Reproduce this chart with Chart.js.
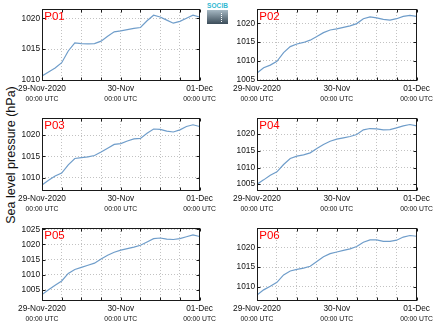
<!DOCTYPE html>
<html>
<head>
<meta charset="utf-8">
<script src="https://cdn.jsdelivr.net/npm/chart.js@4.4.0/dist/chart.umd.min.js"></script>
<style>
  body { margin: 0; background: #fff; width: 434px; height: 327px; position: relative; overflow: hidden; font-family: "Liberation Sans", Arial, sans-serif; }
  .panel { position: absolute; }
  #ylab { position: absolute; left: 11px; top: 155px; transform: translate(-50%, -50%) rotate(-90deg); font-size: 12.5px; color: #111; white-space: nowrap; }
  #logo { position: absolute; left: 207px; top: 2px; width: 21px; }
  #logo span { display: block; font-size: 6.5px; color: #2fb8d2; letter-spacing: 0.1px; line-height: 7px; font-weight: bold; }
  #logo div { height: 14px; margin-top: 1px; background: linear-gradient(#a6b8c3, #3b4c59); position: relative; }
  #logo div i { position: absolute; left: 14px; top: 3px; height: 9px; border-left: 1px dotted #fff; }
</style>
</head>
<body>
<div id="ylab">Sea level pressure (hPa)</div>
<div id="logo"><span>SOCIB</span><div><i></i></div></div>
<script>
// hours since 29-Nov-2020 00:00 UTC
const hours = [0, 2, 4, 6, 8, 10, 12, 14, 16, 18, 20, 22, 24, 26, 28, 30, 32, 34, 36, 38, 40, 42, 44, 46, 48];

const p01 = [1010.65, 1011.3, 1011.95, 1012.8, 1014.7, 1016.0, 1015.9, 1015.85, 1015.9, 1016.3, 1017.1, 1017.8, 1017.95,
             1018.15, 1018.35, 1018.5, 1019.6, 1020.5, 1020.2, 1019.7, 1019.2, 1019.5, 1020.0, 1020.5, 1020.2];
const p02 = [1006.8, 1008.2, 1008.9, 1009.9, 1012.2, 1013.8, 1014.5, 1014.9, 1015.5, 1016.5, 1017.5, 1018.2, 1018.5,
             1018.9, 1019.3, 1019.9, 1021.2, 1021.7, 1021.4, 1021.0, 1020.8, 1021.2, 1021.8, 1022.1, 1021.8];
const p03 = [1008.3, 1009.4, 1010.4, 1011.1, 1013.0, 1014.5, 1014.7, 1014.9, 1015.2, 1016.0, 1016.9, 1017.8, 1018.0,
             1018.6, 1019.1, 1019.2, 1020.4, 1021.4, 1021.3, 1020.9, 1020.7, 1021.2, 1022.0, 1022.4, 1022.0];
const p04 = [1005.0, 1006.3, 1007.7, 1008.7, 1010.9, 1012.7, 1013.4, 1013.8, 1014.4, 1015.7, 1016.9, 1017.9, 1018.5,
             1018.9, 1019.3, 1019.9, 1021.3, 1021.7, 1021.6, 1021.3, 1021.4, 1021.9, 1022.5, 1022.9, 1022.5];
const p05 = [1003.4, 1005.0, 1006.5, 1007.9, 1010.4, 1011.7, 1012.4, 1013.1, 1013.8, 1015.2, 1016.4, 1017.4, 1018.1,
             1018.6, 1019.1, 1019.7, 1020.8, 1021.9, 1022.1, 1021.7, 1021.6, 1021.9, 1022.5, 1023.1, 1022.6];
const p06 = [1007.9, 1009.2, 1010.1, 1011.1, 1013.0, 1014.0, 1014.4, 1014.7, 1015.2, 1016.4, 1017.6, 1018.4, 1018.8,
             1019.2, 1019.6, 1020.2, 1021.3, 1021.9, 1021.9, 1021.5, 1021.5, 1021.8, 1022.6, 1023.0, 1022.8];

const names = ['P01', 'P02', 'P03', 'P04', 'P05', 'P06'];
const series = [p01, p02, p03, p04, p05, p06];
const yMin = [1009.84, 1004.68, 1006.89, 1002.96, 1001.3, 1006.37];
const yMax = [1021.5, 1023.77, 1023.98, 1024.86, 1025.4, 1024.9];

const tickHours = [0, 24, 48];
const tickDates = ['29-Nov-2020', '30-Nov', '01-Dec'];
const tickTime = '00:00 UTC';

Chart.defaults.font.family = '"Liberation Sans", Arial, sans-serif';
Chart.defaults.color = '#111';

const colLeft = [0, 217];
const yAxisW = [42, 40];
const rowTop = [9, 118, 228];
const rowH = [72, 73, 73];
const PAD_TOP = 9, X1_H = 13, X2_H = 10;

const frame = {
  id: 'frame',
  afterDraw(chart) {
    const { ctx, chartArea: a, scales } = chart;
    const l = Math.round(a.left) + 0.5, r = Math.round(a.right) - 0.5;
    const t = Math.round(a.top) + 0.5, b = Math.round(a.bottom) - 0.5;
    ctx.save();
    ctx.strokeStyle = '#1a1a1a';
    ctx.lineWidth = 1;
    ctx.beginPath();
    scales.y.ticks.forEach(tk => {
      const y = Math.round(scales.y.getPixelForValue(tk.value)) + 0.5;
      ctx.moveTo(l, y); ctx.lineTo(l + 3, y);
      ctx.moveTo(r, y); ctx.lineTo(r - 3, y);
    });
    scales.x.ticks.forEach(tk => {
      const x = Math.round(scales.x.getPixelForValue(tk.value)) + 0.5;
      ctx.moveTo(x, b); ctx.lineTo(x, b - 3);
      ctx.moveTo(x, t); ctx.lineTo(x, t + 3);
    });
    ctx.stroke();
    ctx.strokeRect(l, t, r - l, b - t);
    ctx.fillStyle = '#ff0000';
    ctx.font = '11.5px "Liberation Sans", Arial, sans-serif';
    ctx.textBaseline = 'alphabetic';
    ctx.textAlign = 'left';
    ctx.fillText(chart.options.plugins.frame.name, a.left + 2.3, a.top + 10.5);
    ctx.restore();
  }
};

series.forEach((vals, i) => {
  const col = i % 2, row = Math.floor(i / 2);
  const w = 217, h = PAD_TOP + rowH[row] + X1_H + X2_H;
  const div = document.createElement('div');
  div.className = 'panel';
  div.style.left = colLeft[col] + 'px';
  div.style.top = (rowTop[row] - PAD_TOP) + 'px';
  const canvas = document.createElement('canvas');
  canvas.width = w; canvas.height = h;
  canvas.style.width = w + 'px'; canvas.style.height = h + 'px';
  div.appendChild(canvas);
  document.body.appendChild(div);

  new Chart(canvas.getContext('2d'), {
    type: 'line',
    data: {
      datasets: [{
        data: vals.map((v, k) => ({ x: hours[k], y: v })),
        borderColor: '#6f9dca',
        borderWidth: 1.2,
        pointRadius: 0,
        tension: 0,
        fill: false
      }]
    },
    options: {
      responsive: false,
      animation: false,
      devicePixelRatio: 1,
      layout: { padding: { top: PAD_TOP, right: 17, left: 0, bottom: 0 } },
      plugins: { legend: { display: false }, tooltip: { enabled: false }, frame: { name: names[i] } },
      scales: {
        x: {
          type: 'linear', min: 0, max: 48, position: 'bottom', weight: 0,
          grid: { color: '#c2c2c2', lineWidth: 1, drawTicks: false },
          border: { display: false, dash: [1, 2] },
          ticks: {
            stepSize: 6, autoSkip: false, maxRotation: 0, minRotation: 0, padding: 3,
            font: { size: 8.3 },
            callback: v => { const k = tickHours.indexOf(v); return k >= 0 ? tickDates[k] : ''; }
          },
          afterFit: s => { s.height = X1_H; }
        },
        x2: {
          type: 'linear', min: 0, max: 48, position: 'bottom', weight: 1,
          grid: { display: false, drawTicks: false },
          border: { display: false },
          ticks: {
            stepSize: 6, autoSkip: false, maxRotation: 0, minRotation: 0, padding: 1,
            font: { size: 6.8 },
            callback: v => tickHours.includes(v) ? tickTime : ''
          },
          afterFit: s => { s.height = X2_H; }
        },
        y: {
          min: yMin[i], max: yMax[i],
          grid: { color: '#c2c2c2', lineWidth: 1, drawTicks: false },
          border: { display: false, dash: [1, 2] },
          ticks: { stepSize: 5, includeBounds: false, padding: 2, font: { size: 8.3 }, callback: v => String(v) },
          afterFit: s => { s.width = yAxisW[col]; }
        }
      }
    },
    plugins: [frame]
  });
});
</script>
</body>
</html>
